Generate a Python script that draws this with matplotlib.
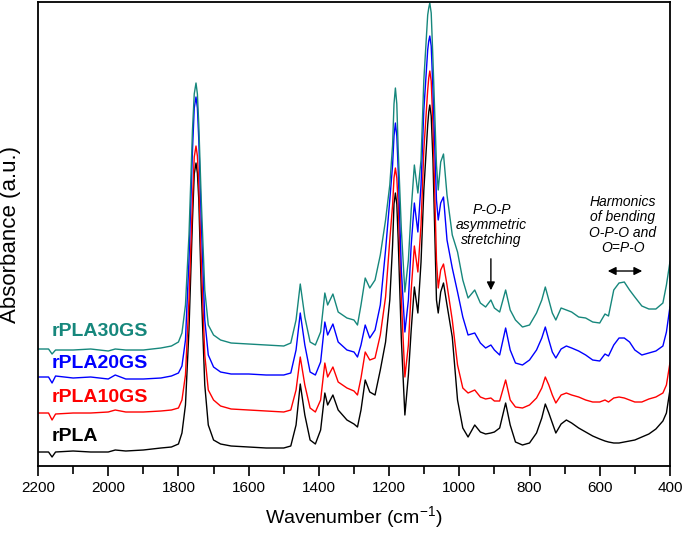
import numpy as np
from matplotlib import pyplot as plt

plt.rcParams["font.family"] = ["Liberation Sans", "DejaVu Sans"]
plt.rcParams["mathtext.default"] = "regular"

# wavenumber grid (cm-1) and absorbance (a.u., curves already stacked)
wavenumber = [
    2200, 2170, 2160, 2150, 2100, 2050, 2000, 1980, 1950, 1900, 1850, 1820,
    1800, 1790, 1780, 1770, 1760, 1755, 1750, 1746, 1742, 1735, 1725, 1715, 1700, 1680,
    1650, 1600, 1550, 1500, 1480, 1465, 1453, 1440, 1425, 1410, 1395, 1383,
    1375, 1360, 1345, 1320, 1300, 1290, 1280, 1268, 1255, 1240, 1225, 1210,
    1198, 1190, 1186, 1182, 1178, 1174, 1165, 1155, 1145, 1137, 1128, 1118, 1109, 1101,
    1090, 1087, 1084, 1080, 1075, 1065, 1060, 1053, 1045, 1035, 1020, 1005, 990, 975,
    956, 940, 925, 910, 900, 885, 868, 855, 840, 820, 800, 780,
    765, 755, 745, 735, 725, 710, 695, 680, 660, 640, 620, 600,
    585, 575, 560, 545, 530, 515, 500, 480, 460, 440, 420, 410, 400,
]

rpla = np.array([
    14, 14, 9, 14, 15, 14, 14, 16, 15, 16, 18, 19,
    22, 33, 61, 136, 246, 292, 303, 293, 266, 176, 81, 41, 26, 22,
    20, 19, 18, 18, 20, 41, 82, 51, 26, 22, 36, 73,
    61, 71, 56, 46, 42, 39, 56, 86, 74, 71, 96, 124,
    166, 221, 262, 273, 262, 226, 126, 51, 91, 136, 179, 153, 204, 276,
    341, 354, 361, 350, 306, 166, 153, 174, 183, 161, 129, 66, 38, 29,
    41, 34, 32, 33, 34, 38, 63, 41, 24, 21, 23, 33,
    48, 62, 53, 43, 33, 42, 46, 43, 38, 34, 30, 27,
    25, 24, 23, 23, 24, 25, 26, 29, 32, 37, 45, 53, 76,
]) / 100

rpla10gs = np.array([
    53, 53, 46, 52, 53, 53, 54, 56, 54, 54, 55, 56,
    58, 66, 91, 166, 266, 309, 320, 310, 281, 206, 111, 76, 66, 60,
    57, 56, 55, 54, 56, 76, 109, 81, 58, 54, 66, 103,
    89, 99, 84, 78, 75, 71, 88, 114, 106, 108, 131, 169,
    226, 261, 288, 298, 288, 261, 166, 89, 121, 176, 220, 194, 241, 316,
    376, 388, 395, 385, 341, 206, 178, 196, 202, 181, 146, 101, 78, 73,
    76, 69, 67, 68, 65, 65, 86, 66, 59, 58, 61, 68,
    78, 89, 81, 71, 63, 71, 73, 71, 69, 66, 64, 64,
    66, 64, 68, 69, 68, 66, 64, 64, 67, 69, 73, 81, 103,
]) / 100

rpla20gs = np.array([
    89, 89, 83, 90, 88, 89, 87, 91, 87, 87, 88, 90,
    93, 100, 126, 206, 316, 358, 369, 358, 326, 246, 146, 111, 99, 94,
    92, 92, 91, 91, 93, 116, 153, 121, 94, 91, 104, 144,
    131, 142, 124, 116, 114, 109, 121, 141, 128, 136, 161, 216,
    266, 301, 330, 343, 330, 296, 196, 134, 166, 221, 263, 234, 281, 356,
    416, 425, 430, 420, 376, 266, 246, 263, 269, 226, 198, 174, 149, 131,
    133, 123, 118, 121, 116, 111, 138, 116, 103, 101, 106, 116,
    128, 139, 126, 114, 108, 117, 120, 118, 115, 111, 106, 105,
    112, 110, 121, 128, 128, 124, 116, 111, 113, 115, 120, 134, 159,
]) / 100

rpla30gs = np.array([
    117, 117, 112, 116, 116, 117, 115, 117, 116, 116, 118, 120,
    124, 133, 161, 231, 336, 372, 383, 372, 341, 266, 176, 141, 131, 126,
    123, 122, 121, 120, 123, 146, 182, 149, 124, 121, 134, 173,
    161, 172, 154, 148, 146, 141, 161, 188, 178, 186, 211, 246,
    281, 321, 362, 378, 362, 316, 236, 174, 206, 256, 301, 273, 306, 386,
    451, 458, 463, 453, 406, 301, 276, 304, 312, 271, 231, 214, 186, 168,
    176, 163, 159, 166, 158, 154, 176, 156, 146, 139, 141, 153,
    166, 179, 166, 153, 146, 158, 156, 154, 149, 148, 144, 143,
    152, 150, 176, 183, 184, 176, 169, 160, 157, 157, 163, 181, 204,
]) / 100

samples = ["rPLA", "rPLA10GS", "rPLA20GS", "rPLA30GS"]
colors = ["black", "#ff0000", "#0000ff", "#16877c"]
label_y = [0.30, 0.69, 1.03, 1.35]

fig = plt.figure(figsize=(6.85, 5.43), dpi=100)
ax = fig.add_axes([0.0555, 0.1418, 0.9225, 0.8545])

for name, spec, c, ly in zip(samples, [rpla, rpla10gs, rpla20gs, rpla30gs], colors, label_y):
    ax.plot(wavenumber, spec, color=c, lw=1.0)
    ax.text(2160, ly, name, color=c, fontsize=14, fontweight="bold",
            ha="left", va="center")

ax.set_xlim(2200, 400)
ax.set_ylim(0, 4.64)
ax.set_xticks(np.arange(2200, 399, -200))
ax.set_xticks(np.arange(2100, 399, -200), minor=True)
ax.set_yticks([])
ax.tick_params(axis="x", which="major", direction="out", length=7, width=1.2,
               labelsize=11, pad=4)
ax.tick_params(axis="x", which="minor", direction="out", length=6, width=1.2)
for s in ax.spines.values():
    s.set_linewidth(1.3)

ax.set_xlabel("Wavenumber (cm$^{-1}$)", fontsize=14, labelpad=6)
ax.set_ylabel("Absorbance (a.u.)", fontsize=16)
ax.yaxis.set_label_coords(-0.027, 0.5)

# band annotations
ax.text(908, 2.41, "P-O-P\nasymmetric\nstretching", fontsize=10, style="italic",
        ha="center", va="center", linespacing=1.1)
ax.annotate("", xy=(910, 1.73), xytext=(910, 2.10),
            arrowprops=dict(arrowstyle="-|>", color="black", lw=1,
                            mutation_scale=12))
ax.text(534, 2.41, "Harmonics\nof bending\nO-P-O and\nO=P-O", fontsize=10,
        style="italic", ha="center", va="center", linespacing=1.1)
ax.annotate("", xy=(471, 1.95), xytext=(585, 1.95),
            arrowprops=dict(arrowstyle="<|-|>", color="black", lw=1,
                            mutation_scale=12))

plt.savefig("out.png", dpi=100)
